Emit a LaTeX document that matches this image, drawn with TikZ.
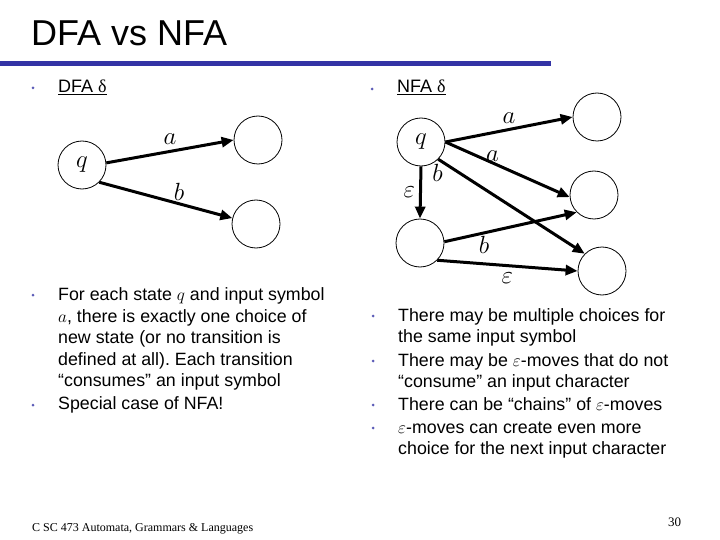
\documentclass[tikz,border=0pt]{standalone}
\usepackage{fontspec}
\setmainfont{Liberation Sans}
\newfontfamily\footfont{Liberation Serif}
\usetikzlibrary{arrows.meta}
\definecolor{slideblue}{RGB}{51,51,165}
\frenchspacing

\begin{document}
\begin{tikzpicture}[x=1pt,y=-1pt,
  state/.style={circle, draw, minimum size=48pt, inner sep=0pt, line width=0.8pt},
  trans/.style={line width=3pt, -{Triangle[length=12pt,width=10pt]}},
  lbl/.style={font=\fontsize{26}{26}\selectfont, inner sep=1pt},
  bodytext/.style={anchor=base west, align=left, inner sep=0pt, font=\fontsize{17.8}{21.5}\selectfont},
  headtext/.style={anchor=base west, inner sep=0pt, font=\fontsize{18}{18}\selectfont},
  bulletdot/.style={circle, fill=slideblue!80, inner sep=0pt, minimum size=3pt}]
\useasboundingbox (0,0) rectangle (720,540);
% Title and rule
\node[anchor=base west, inner sep=0pt, font=\fontsize{36}{36}\selectfont] (title) at (31,46) {DFA vs NFA};
\fill[slideblue] (0,61) rectangle (551,66);
% Headings
\node[bulletdot] (b1) at (33,88) {};
\node[headtext] (dfahead) at (58,93) {\underline{DFA {\footfont δ}}};
\node[bulletdot] (b2) at (372,89) {};
\node[headtext] (nfahead) at (397,93) {\underline{NFA {\footfont δ}}};
% DFA states
\node[state] at (82,165) (dq) {\fontsize{26}{26}\selectfont$q$};
\node[state] at (258,140) (da) {};
\node[state] at (256,224) (db) {};
% DFA transitions
\draw[trans] (dq.5) -- (da.180) node[lbl, midway, above=4pt] {$a$};
\draw[trans] (dq.-45) -- (db.166) node[lbl, pos=0.6, above=1pt] {$b$};
% NFA states
\node[state] at (421,142) (nq) {\fontsize{26}{26}\selectfont$q$};
\node[state] at (597,117) (na) {};
\node[state] at (594,195) (nb) {};
\node[state] at (602,271) (nc) {};
\node[state] at (420,243) (ne) {};
% NFA transitions
\draw[trans] (nq.0) -- (na.180) node[lbl, midway, above=3pt] {$a$};
\draw[trans] (nq.0) -- (nb.185) node[lbl, pos=0.38, above=-1pt] {$a$};
\draw[trans] (nq.-45) -- (nc.135) node[lbl, pos=0.04, below left=-1pt] {$b$};
\draw[trans] (nq.-90) -- (ne.90) node[lbl, midway, left=3pt] {$\varepsilon$};
\draw[trans] (ne.3) -- (nb.-135) node[lbl, pos=0.3, below=1pt] {$b$};
\draw[trans] (ne.-45) -- (nc.180) node[lbl, midway, below=5pt] {$\varepsilon$};
% DFA remarks (base = last line)
\node[bulletdot] (b3) at (33,295) {};
\node[bodytext] (dfatext) at (58,386.7) {For each state $q$ and input symbol\\ $a$, there is exactly one choice of\\ new state (or no transition is\\ defined at all). Each transition\\ “consumes” an input symbol};
\node[bulletdot] (b4) at (33,405) {};
\node[bodytext] (dfaspecial) at (58,409.3) {Special case of NFA!};
% NFA remarks
\node[bulletdot] (b5) at (373,316) {};
\node[bodytext] (nfaone) at (398,342.5) {There may be multiple choices for\\ the same input symbol};
\node[bulletdot] (b6) at (373,361) {};
\node[bodytext] (nfatwo) at (398,387.5) {There may be $\varepsilon$-moves that do not\\ “consume” an input character};
\node[bulletdot] (b7) at (373,405) {};
\node[bodytext] (nfathree) at (398,410) {There can be “chains” of $\varepsilon$-moves};
\node[bulletdot] (b8) at (373,428) {};
\node[bodytext] (nfafour) at (398,454.5) {$\varepsilon$-moves can create even more\\ choice for the next input character};
% Footer
\node[anchor=base west, inner sep=0pt, font=\footfont\fontsize{12}{12}\selectfont] (footer) at (32,531) {C SC 473 Automata, Grammars \& Languages};
\node[anchor=base west, inner sep=0pt, font=\footfont\fontsize{13}{13}\selectfont] (pagenum) at (668,526) {30};
\end{tikzpicture}
\end{document}
